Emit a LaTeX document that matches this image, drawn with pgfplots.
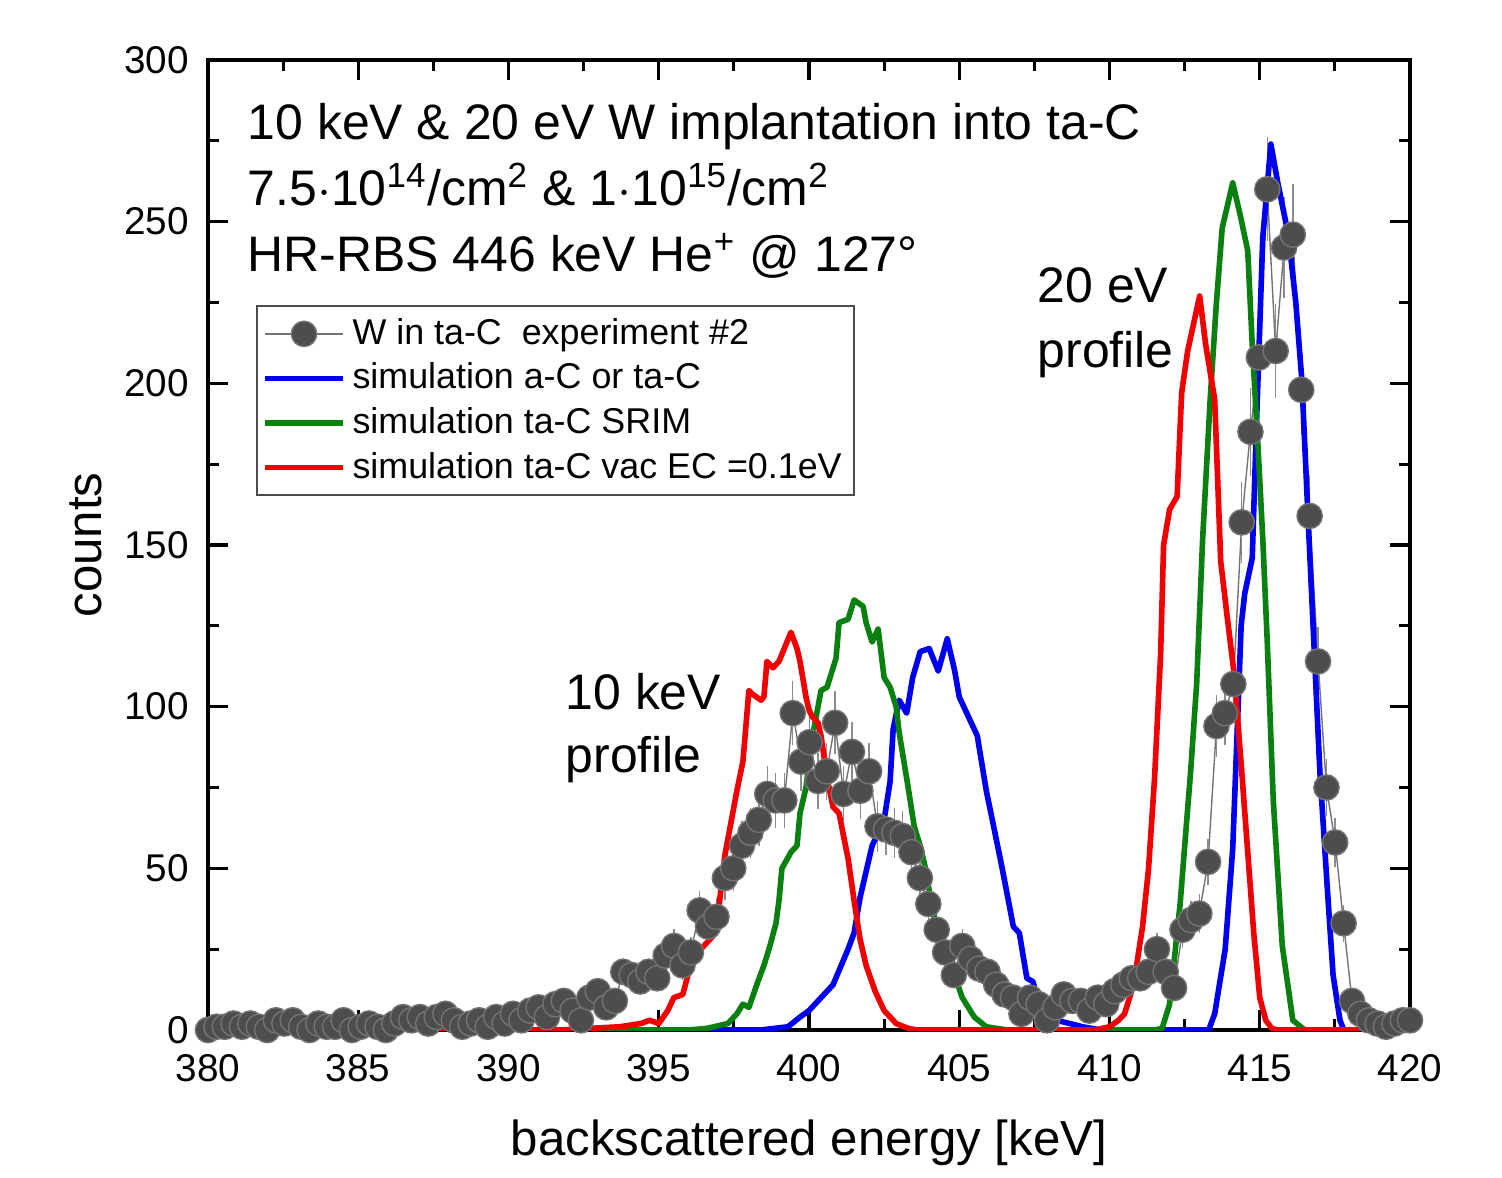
\documentclass[border=0pt]{standalone}
\usepackage{pgfplots}
\pgfplotsset{compat=1.18}
\usepackage{pgfplotstable}
\usepackage{fontspec}
\setmainfont{Liberation Sans}
\definecolor{expgray}{HTML}{4D4D4D}
\definecolor{simblue}{HTML}{0000F0}
\definecolor{simgreen}{HTML}{0A8010}
\definecolor{simred}{HTML}{F00000}

% measured spectrum: energy, counts, sqrt(counts)
\pgfplotstableread{
E c e
380.00 0 0
380.28 1 1
380.56 1 1
380.85 2 1.4
381.13 1 1
381.41 2 1.4
381.69 1 1
381.97 0 0
382.26 3 1.7
382.54 2 1.4
382.82 3 1.7
383.10 1 1
383.38 0 0
383.67 2 1.4
383.95 1 1
384.23 1 1
384.51 3 1.7
384.79 0 0
385.08 1 1
385.36 2 1.4
385.64 1 1
385.92 0 0
386.20 2 1.4
386.49 4 2
386.77 3 1.7
387.05 4 2
387.33 2 1.4
387.61 4 2
387.90 5 2.2
388.18 3 1.7
388.46 1 1
388.74 2 1.4
389.02 3 1.7
389.31 1 1
389.59 4 2
389.87 2 1.4
390.15 5 2.2
390.43 3 1.7
390.72 6 2.4
391.00 7 2.6
391.28 4 2
391.56 8 2.8
391.84 9 3
392.13 6 2.4
392.41 3 1.7
392.69 10 3.2
392.97 12 3.5
393.25 7 2.6
393.54 9 3
393.82 18 4.2
394.10 17 4.1
394.38 15 3.9
394.66 18 4.2
394.95 16 4
395.23 23 4.8
395.51 26 5.1
395.79 20 4.5
396.07 24 4.9
396.36 37 6.1
396.64 32 5.7
396.92 35 5.9
397.20 47 6.9
397.48 50 7.1
397.77 57 7.5
398.05 61 7.8
398.33 65 8.1
398.61 73 8.5
398.89 71 8.4
399.18 71 8.4
399.46 98 9.9
399.74 83 9.1
400.02 89 9.4
400.30 77 8.8
400.59 80 8.9
400.87 95 9.7
401.15 73 8.5
401.43 86 9.3
401.71 74 8.6
402.00 80 8.9
402.28 63 7.9
402.56 62 7.9
402.84 61 7.8
403.12 60 7.7
403.41 55 7.4
403.69 47 6.9
403.97 39 6.2
404.25 31 5.6
404.53 24 4.9
404.82 17 4.1
405.10 26 5.1
405.38 22 4.7
405.66 19 4.4
405.94 18 4.2
406.23 14 3.7
406.51 11 3.3
406.79 10 3.2
407.07 5 2.2
407.35 10 3.2
407.64 8 2.8
407.92 3 1.7
408.20 7 2.6
408.48 11 3.3
408.76 9 3
409.05 9 3
409.33 6 2.4
409.61 10 3.2
409.89 8 2.8
410.17 12 3.5
410.46 14 3.7
410.74 16 4
411.02 16 4
411.30 18 4.2
411.58 25 5
411.87 18 4.2
412.15 13 3.6
412.43 31 5.6
412.71 34 5.8
412.99 36 6
413.28 52 7.2
413.56 94 9.7
413.84 98 9.9
414.12 107 10.3
414.40 157 12.5
414.69 185 13.6
414.97 208 14.4
415.25 260 16.1
415.53 210 14.5
415.81 242 15.6
416.10 246 15.7
416.38 198 14.1
416.66 159 12.6
416.94 114 10.7
417.22 75 8.7
417.51 58 7.6
417.79 33 5.7
418.07 9 3
418.35 5 2.2
418.63 3 1.7
418.92 2 1.4
419.20 1 1
419.48 2 1.4
419.76 3 1.7
420.00 3 1.7
}\expdata

\begin{document}
\begin{tikzpicture}
\begin{axis}[
  at={(0,0)}, anchor=south west,
  width=12.02cm, height=9.70cm, scale only axis,
  xmin=380, xmax=420, ymin=0, ymax=300,
  xtick={380,385,...,420}, ytick={0,50,...,300},
  minor x tick num=1, minor y tick num=1,
  tick align=inside, major tick length=0.2cm, minor tick length=0.11cm,
  every tick/.style={black, line width=0.9pt},
  axis line style={line width=1pt},
  /pgf/number format/assume math mode=true,
  /pgf/number format/1000 sep={},
  ticklabel style={font=\fontsize{11}{13}\selectfont},
  xticklabel style={yshift=-0.12cm},
  yticklabel style={xshift=-0.07cm},
  xlabel={backscattered energy [keV]}, ylabel={counts},
  label style={font=\fontsize{14}{16}\selectfont},
  xlabel style={at={(axis description cs:0.5,-0.1165)}, anchor=center},
  ylabel style={at={(axis description cs:-0.102,0.5)}, anchor=center},
  legend style={at={(0.040,0.747)}, anchor=north west, draw=black!70, line width=0.5pt,
    font=\fontsize{10.2}{11}\selectfont, row sep=0pt, inner sep=1.5pt,
    nodes={inner sep=1.9pt}},
  legend cell align=left,
  legend image code/.code={\draw[mark repeat=2, mark phase=2, #1] plot coordinates {(0cm,0cm) (0.39cm,0cm) (0.78cm,0cm)};},
  clip=true,
]
\addplot[color=black!55, line width=0.4pt, mark=*, mark size=3.6pt,
  mark options={draw=none, fill=expgray},
  error bars/.cd, y dir=both, y explicit,
  error bar style={black!45, line width=0.4pt}, error mark=none]
  table[x=E, y=c, y error=e] {\expdata};
\addlegendentry{W in ta-C\ \ experiment \#2}

\addplot[color=simblue, line width=1.6pt, line join=round] table {
380.0 0
398.4 0
399.3 1
399.7 4
400.0 6
400.4 10
400.8 14
401.3 25
401.5 30
401.7 41
401.9 49
402.1 57
402.5 65
402.7 77
402.8 93
403.0 102
403.25 98
403.45 109
403.7 117
404.0 118
404.3 111
404.6 121
404.85 111
405.0 103
405.35 96
405.6 91
405.9 74
406.1 65
406.45 49
406.8 32
407.0 30
407.25 16
407.45 15
407.6 10
407.9 8
408.25 3
409.1 1
409.7 0
413.3 0
413.5 5
413.85 25
414.1 56
414.28 100
414.38 125
414.5 135
414.75 146
414.9 190
415.1 245
415.37 274
415.6 262
415.95 246
416.2 225
416.4 201
416.6 160
416.8 120
417.0 80
417.24 45
417.44 17
417.67 3
417.8 0
420.0 0
};
\addlegendentry{simulation a-C or ta-C}

\addplot[color=simgreen, line width=1.6pt, line join=round] table {
380.0 0
396.0 0
396.6 0.5
397.3 2
397.6 5
397.8 8
398.0 7
398.3 15
398.5 20
398.7 26
398.9 33
399.0 40
399.1 50
399.4 55
399.6 57
399.7 67
399.9 75
400.1 90
400.4 105
400.6 106
400.9 115
401.0 126
401.3 127
401.5 133
401.8 131
401.9 126
402.1 120
402.3 124
402.5 109
402.7 106
402.9 100
403.0 92
403.3 75
403.5 63
403.7 57
403.9 49
404.1 37
404.45 27
404.8 18
405.1 10
405.5 4
405.9 1
406.6 0
411.5 0
411.75 0.5
412.0 8
412.35 39
412.7 80
412.9 107
413.1 152
413.35 195
413.55 224
413.75 248
414.1 262
414.35 252
414.6 241
414.75 212
414.95 179
415.1 152
415.25 120
415.45 71
415.75 26
416.1 3
416.5 0
420.0 0
};
\addlegendentry{simulation ta-C SRIM}

\addplot[color=simred, line width=1.6pt, line join=round] table {
380.0 0
391.7 0
393.7 1
394.4 2
394.7 3
395.0 2
395.3 6
395.5 10
395.8 11
396.0 18
396.1 24
396.4 25
396.6 27
396.8 29
397.0 38
397.2 54
397.4 64
397.6 74
397.8 83
398.0 105
398.1 104
398.4 102
398.5 103
398.6 114
398.8 112
399.0 114
399.4 123
399.6 118
399.7 114
399.9 103
400.0 99
400.1 97
400.3 95
400.4 91
400.6 78
400.8 69
401.0 67
401.3 53
401.5 40
401.7 28
401.9 20
402.2 12
402.5 6
402.9 2
403.3 0.5
403.6 0
409.5 0
410.0 1
410.3 3
410.5 5
410.8 14
411.1 32
411.3 50
411.5 78
411.7 116
411.8 150
412.0 161
412.25 165
412.4 197
412.6 210
413.0 227
413.2 212
413.5 195
413.7 145
413.9 129
414.15 110
414.4 80
414.6 55
414.8 30
415.0 10
415.2 3
415.4 0.5
415.6 0
420.0 0
};
\addlegendentry{simulation ta-C vac EC =0.1eV}

\node[anchor=base west, inner sep=0pt, font=\fontsize{14.2}{16}\selectfont] at (axis cs:381.3,275.3) {10 keV \& 20 eV W implantation into ta-C};
\node[anchor=base west, inner sep=0pt, font=\fontsize{14.2}{16}\selectfont] at (axis cs:381.3,255) {7.5$\cdot$10\textsuperscript{14}/cm\textsuperscript{2} \& 1$\cdot$10\textsuperscript{15}/cm\textsuperscript{2}};
\node[anchor=base west, inner sep=0pt, font=\fontsize{14.2}{16}\selectfont] at (axis cs:381.3,234.5) {HR-RBS 446 keV He\textsuperscript{+} @ 127°};
\node[anchor=base west, font=\fontsize{14.2}{16}\selectfont, inner sep=0pt] at (axis cs:391.88,99) {10 keV};
\node[anchor=base west, font=\fontsize{14.2}{16}\selectfont, inner sep=0pt] at (axis cs:391.88,79.5) {profile};
\node[anchor=base west, font=\fontsize{14.2}{16}\selectfont, inner sep=0pt] at (axis cs:407.59,225) {20 eV};
\node[anchor=base west, font=\fontsize{14.2}{16}\selectfont, inner sep=0pt] at (axis cs:407.59,205) {profile};
\end{axis}
\path (-2.08cm,-1.43cm) rectangle (12.94cm,10.30cm);
\end{tikzpicture}
\end{document}
